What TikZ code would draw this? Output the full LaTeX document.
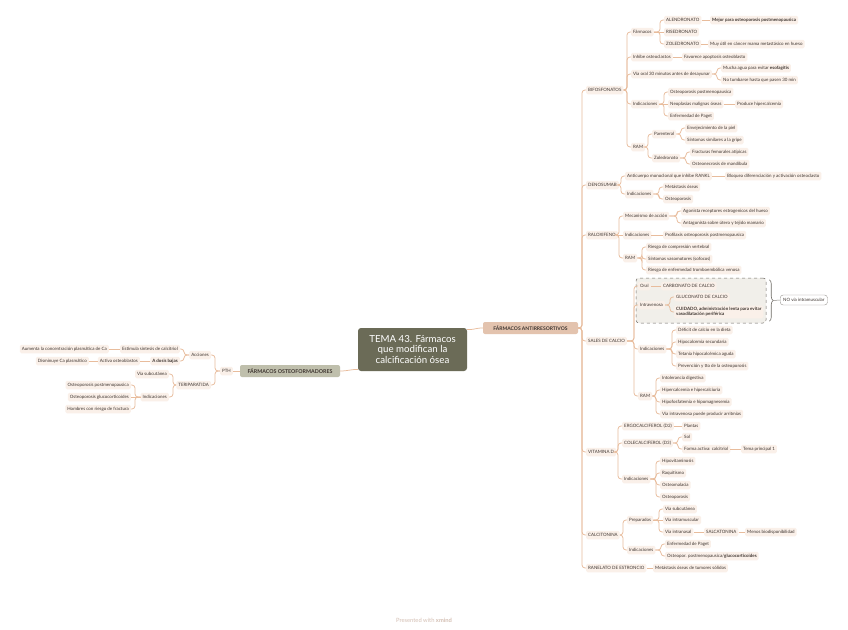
\documentclass[tikz,border=0pt]{standalone}
\usepackage{fontspec}
\setmainfont{Lato}
\usetikzlibrary{decorations.pathreplacing}
\definecolor{lnc}{HTML}{E8BC9C}
\definecolor{bxf}{HTML}{FAF0E9}
\definecolor{txc}{HTML}{3E3530}
\definecolor{rootc}{HTML}{6B6B57}
\definecolor{antic}{HTML}{E3C3AE}
\definecolor{osteoc}{HTML}{BFBFAC}
\definecolor{dashf}{HTML}{F1EFEA}
\definecolor{dashd}{HTML}{6E6A64}
\definecolor{footc}{HTML}{D4BFB3}
\newcommand\myR[2]{\draw[conn] (#1.east) -| ([xshift=-4pt]#2.west) -- (#2.west);}
\newcommand\myL[2]{\draw[conn] (#1.west) -| ([xshift=4pt]#2.east) -- (#2.east);}
\newcommand\myS[2]{\draw[conn] (#1.east) -- (#2.west);}
\newcommand\mySL[2]{\draw[conn] (#1.west) -- (#2.east);}
\begin{document}
\begin{tikzpicture}[x=1pt,y=-1pt,
  bx/.style={fill=bxf, rounded corners=1.5pt, text=txc, font=\fontsize{4.45}{5.3}\selectfont, inner xsep=2pt, inner ysep=1.6pt, minimum height=8.5pt},
  R/.style={bx, anchor=west},
  L/.style={bx, anchor=east},
  conn/.style={draw=lnc, line width=0.75pt, rounded corners=3pt}]
\useasboundingbox (0,0) rectangle (848,629);
\fill[white] (0,0) rectangle (848,629);

% root and main branches
\node[fill=rootc, rounded corners=3pt, minimum width=109pt, minimum height=43pt, text=white, font=\fontsize{9.7}{10.6}\selectfont, align=center] (root) at (412.5,349.5) {TEMA 43. Fármacos\\que modifican la\\calcificación ósea};
\node[fill=antic, rounded corners=2pt, text=txc, font=\bfseries\fontsize{5}{6}\selectfont, minimum width=95pt, minimum height=12pt, inner sep=1pt] (anti) at (530.5,328) {FÁRMACOS ANTIRRESORTIVOS};
\node[fill=osteoc, rounded corners=2pt, text=txc, font=\bfseries\fontsize{5.3}{6}\selectfont, minimum width=100pt, minimum height=12pt, inner sep=1pt] (osteo) at (290,371) {FÁRMACOS OSTEOFORMADORES};
\draw[conn] (root.20) .. controls +(9,0) and +(-8,0) .. (anti.west);
\draw[conn] (root.200) .. controls +(-8,0) and +(8,0) .. (osteo.east);

% dashed group
\node[draw=dashd, dashed, fill=dashf, rounded corners=3pt, minimum width=130pt, minimum height=45pt, line width=0.5pt] (dbox) at (701,300.5) {};
\draw[dashd, line width=0.6pt, decorate, decoration={brace, amplitude=4pt}] ([xshift=3pt,yshift=-2pt]dbox.north east) -- ([xshift=3pt,yshift=2pt]dbox.south east);
\coordinate (btip) at ([xshift=7pt]dbox.east);
\node[bx, anchor=west, fill=white, draw=dashd!70, rounded corners=3pt, inner xsep=3pt, minimum height=10pt] (nova) at (780,300) {NO vía intramuscular};
\draw[dashd!80, line width=0.5pt] (btip) -- (nova.west);

% level 1 right
\node[R] (bif) at (586,90) {BIFOSFONATOS};
\node[R] (den) at (586,185) {DENOSUMAB};
\node[R] (ral) at (586,235) {RALOXIFENO};
\node[R] (sal) at (586,341) {SALES DE CALCIO};
\node[R] (vit) at (586,452) {VITAMINA D};
\node[R] (cal) at (586,535) {CALCITONINA};
\node[R] (ran) at (586,568) {RANELATO DE ESTRONCIO};
\foreach \c in {bif,den,ral,sal,vit,cal,ran}{\myR{anti}{\c}}

% BIFOSFONATOS
\node[R] (farm) at (631,32) {Fármacos};
\node[R] (inh) at (631,57) {Inhibe osteoclastos};
\node[R] (via) at (631,74) {Vía oral 30 minutos antes de desayunar};
\node[R] (ind1) at (631,104) {Indicaciones};
\node[R] (ram1) at (631,147) {RAM};
\foreach \c in {farm,inh,via,ind1,ram1}{\myR{bif}{\c}}
\node[R] (alen) at (664,20) {ALENDRONATO};
\node[R] (rise) at (664,32) {RISEDRONATO};
\node[R] (zole) at (664,44) {ZOLEDRONATO};
\myR{farm}{alen}\myS{farm}{rise}\myR{farm}{zole}
\node[R] (mej) at (710,20) {\textbf{Mejor para osteoporosis postmenopausica}};
\myS{alen}{mej}
\node[R] (muy) at (708,44) {Muy útil en cáncer mama metastásico en hueso};
\myS{zole}{muy}
\node[R] (fav) at (682,57) {Favorece apoptosis osteoblasto};
\myS{inh}{fav}
\node[R] (much) at (721,68) {Mucha agua para evitar \textbf{esofagitis}};
\node[R] (notu) at (721,80) {No tumbarse hasta que pasen 30 min};
\myR{via}{much}\myR{via}{notu}
\node[R] (ost1) at (668,92) {Osteoporosis postmenopausica};
\node[R] (neo) at (668,104) {Neoplasias malignas óseas};
\node[R] (pag1) at (668,116) {Enfermedad de Paget};
\myR{ind1}{ost1}\myS{ind1}{neo}\myR{ind1}{pag1}
\node[R] (prod) at (735,104) {Produce hipercalcemia};
\myS{neo}{prod}
\node[R] (par) at (652,134) {Parenteral};
\node[R] (zol2) at (652,158) {Zoledronato};
\myR{ram1}{par}\myR{ram1}{zol2}
\node[R] (env) at (685,128) {Envejecimiento de la piel};
\node[R] (sin1) at (685,140) {Síntomas similares a la gripe};
\myR{par}{env}\myR{par}{sin1}
\node[R] (fra) at (690,152) {Fracturas femorales atípicas};
\node[R] (osn) at (690,164) {Osteonecrosis de mandíbula};
\myR{zol2}{fra}\myR{zol2}{osn}

% DENOSUMAB
\node[R] (acm) at (625,176) {Anticuerpo monoclonal que inhibe RANKL};
\node[R] (ind2) at (625,194) {Indicaciones};
\myR{den}{acm}\myR{den}{ind2}
\node[R] (bloq) at (725,176) {Bloquea diferenciación y activación osteoclasto};
\myS{acm}{bloq}
\node[R] (met1) at (663,187) {Metástasis óseas};
\node[R] (ost2) at (663,199) {Osteoporosis};
\myR{ind2}{met1}\myR{ind2}{ost2}

% RALOXIFENO
\node[R] (mec) at (623,216) {Mecanismo de acción};
\node[R] (ind3) at (623,235) {Indicaciones};
\node[R] (ram2) at (623,258) {RAM};
\myR{ral}{mec}\myS{ral}{ind3}\myR{ral}{ram2}
\node[R] (ago) at (681,211) {Agonista receptores estrogenicos del hueso};
\node[R] (antg) at (681,223) {Antagonista sobre útero y tejido mamario};
\myR{mec}{ago}\myR{mec}{antg}
\node[R] (prof) at (663,235) {Profilaxis osteoporosis postmenopausica};
\myS{ind3}{prof}
\node[R] (rie1) at (646,247) {Riesgo de compresión vertebral};
\node[R] (sin2) at (646,259) {Síntomas vasomotores (sofocos)};
\node[R] (rie2) at (646,270) {Riesgo de enfermedad tromboembólica venosa};
\myR{ram2}{rie1}\myR{ram2}{sin2}\myR{ram2}{rie2}

% SALES DE CALCIO
\node[R] (oral) at (638,286) {Oral};
\node[R] (intra) at (638,305) {Intravenosa};
\node[R] (ind4) at (638,349) {Indicaciones};
\node[R] (ram3) at (638,396) {RAM};
\foreach \c in {oral,intra,ind4,ram3}{\myR{sal}{\c}}
\node[R] (carb) at (661,286) {CARBONATO DE CALCIO};
\myS{oral}{carb}
\node[R] (gluc) at (674,297) {GLUCONATO DE CALCIO};
\node[R, align=left] (cuid) at (674,312) {\textbf{CUIDADO, administración lenta para evitar}\\\textbf{vasodilatación periférica}};
\myR{intra}{gluc}\myR{intra}{cuid}
\node[R] (def) at (676,330) {Déficit de calcio en la dieta};
\node[R] (hipo1) at (676,342) {Hipocalcemia secundaria};
\node[R] (tet) at (676,354) {Tetania hipocalcémica aguda};
\node[R] (prev) at (676,366) {Prevención y tto de la osteoporosis};
\foreach \c in {def,hipo1,tet,prev}{\myR{ind4}{\c}}
\node[R] (intol) at (660,378) {Intolerancia digestiva};
\node[R] (hiper) at (660,390) {Hipercalcemia e hipercalciuria};
\node[R] (hipof) at (660,402) {Hipofosfatemia e hipomagnesemia};
\node[R] (viai) at (660,414) {Vía intravenosa puede producir arritmias};
\foreach \c in {intol,hiper,hipof,viai}{\myR{ram3}{\c}}

% VITAMINA D
\node[R] (ergo) at (622,426) {ERGOCALCIFEROL (D2)};
\node[R] (cole) at (622,443) {COLECALCIFEROL (D3)};
\node[R] (ind5) at (622,479) {Indicaciones};
\foreach \c in {ergo,cole,ind5}{\myR{vit}{\c}}
\node[R] (plan) at (682,426) {Plantas};
\myS{ergo}{plan}
\node[R] (sol) at (682,437) {Sol};
\node[R] (form) at (682,449) {Forma activa: calcitriol};
\myR{cole}{sol}\myR{cole}{form}
\node[R] (tema) at (741,449) {Tema principal 1};
\myS{form}{tema}
\node[R] (hipov) at (660,461) {Hipovitaminosis};
\node[R] (raq) at (660,473) {Raquitismo};
\node[R] (osm) at (660,485) {Osteomalacia};
\node[R] (ost3) at (660,497) {Osteoporosis};
\foreach \c in {hipov,raq,osm,ost3}{\myR{ind5}{\c}}

% CALCITONINA
\node[R] (prep) at (627,520) {Preparados};
\node[R] (ind6) at (627,550) {Indicaciones};
\myR{cal}{prep}\myR{cal}{ind6}
\node[R] (vsc) at (663,509) {Vía subcutánea};
\node[R] (vim) at (663,520) {Vía intramuscular};
\node[R] (vin) at (663,532) {Vía intranasal};
\myR{prep}{vsc}\myS{prep}{vim}\myR{prep}{vin}
\node[R] (salc) at (704,532) {SALCATONINA};
\myS{vin}{salc}
\node[R] (menos) at (745,532) {Menos biodisponibilidad};
\myS{salc}{menos}
\node[R] (pag2) at (665,544) {Enfermedad de Paget};
\node[R] (osp) at (665,556) {Osteopor. postmenopausica/\textbf{glucocorticoides}};
\myR{ind6}{pag2}\myR{ind6}{osp}

% RANELATO
\node[R] (metx) at (653,568) {Metástasis óseas de tumores sólidos};
\myS{ran}{metx}

% LEFT SIDE
\node[L] (pth) at (233,371) {PTH};
\mySL{osteo}{pth}
\node[L] (acc) at (211,355) {Acciones};
\node[L] (ter) at (211,385) {TERIPARATIDA};
\myL{pth}{acc}\myL{pth}{ter}
\node[L] (est) at (180,349) {Estimula síntesis de calcitriol};
\node[L] (dos) at (180,361) {\textbf{A dosis bajas}};
\myL{acc}{est}\myL{acc}{dos}
\node[L] (aum) at (109,349) {Aumenta la concentración plasmática de Ca};
\mySL{est}{aum}
\node[L] (act) at (140,361) {Activa osteoblastos};
\mySL{dos}{act}
\node[L] (dis) at (89,361) {Disminuye Ca plasmático};
\mySL{act}{dis}
\node[L] (vsc2) at (169,374) {Vía subcutánea};
\node[L] (ind7) at (169,397) {Indicaciones};
\myL{ter}{vsc2}\myL{ter}{ind7}
\node[L] (op1) at (131,385) {Osteoporosis postmenopausica};
\node[L] (op2) at (131,397) {Osteoporosis glucocorticoides};
\node[L] (hom) at (131,409) {Hombres con riesgo de fractura};
\myL{ind7}{op1}\mySL{ind7}{op2}\myL{ind7}{hom}

% footer
\node[text=footc, font=\fontsize{5.8}{6.5}\selectfont] (foot) at (424,620) {Presented with \textbf{xmind}};
\end{tikzpicture}
\end{document}
